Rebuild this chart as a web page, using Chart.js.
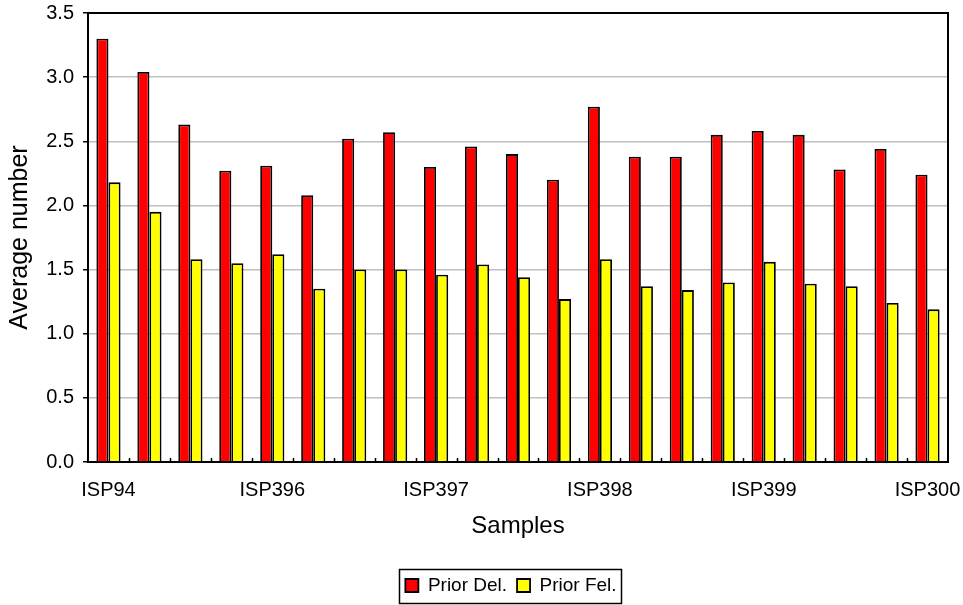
<!DOCTYPE html>
<html><head><meta charset="utf-8">
<script src="https://cdn.jsdelivr.net/npm/chart.js@4"></script>
<style>html,body{margin:0;padding:0;background:#fff}#wrap{width:963px;height:605px}</style>
</head><body><div id="wrap"><canvas id="c" width="963" height="605"></canvas></div>
<script>
const categories = ['ISP94','','','','ISP396','','','','ISP397','','','','ISP398','','','','ISP399','','','','ISP300'];
const priorDel = [3.30,3.04,2.63,2.27,2.31,2.08,2.52,2.57,2.30,2.46,2.40,2.20,2.77,2.38,2.38,2.55,2.58,2.55,2.28,2.44,2.24];
const priorFel = [2.18,1.95,1.58,1.55,1.62,1.35,1.50,1.50,1.46,1.54,1.44,1.27,1.58,1.37,1.34,1.40,1.56,1.39,1.37,1.24,1.19];
const seriesNames = ['Prior Del.','Prior Fel.'];
const yMin = 0, yMax = 3.5, yStep = 0.5;

Chart.defaults.font.family = '"Liberation Sans", Arial, sans-serif';
Chart.defaults.color = '#000';

const LEGEND_SHIFT = 37;

const decor = {
  id: 'decor',
  afterLayout(chart) {
    const lg = chart.legend;
    lg.left += LEGEND_SHIFT; lg.right += LEGEND_SHIFT;
  },
  afterDatasetsDraw(chart) {
    const {ctx, chartArea: a, scales: {x}} = chart;
    ctx.save();
    ctx.strokeStyle = '#000';
    ctx.lineWidth = 1.5;
    const half = (x.getPixelForValue(1) - x.getPixelForValue(0)) / 2;
    ctx.beginPath();
    for (let i = 0; i < categories.length - 1; i++) {
      const px = Math.round(x.getPixelForValue(i) + half) + 0.5;
      ctx.moveTo(px, a.bottom);
      ctx.lineTo(px, a.bottom - 4);
    }
    ctx.stroke();
    ctx.lineWidth = 2;
    ctx.strokeRect(a.left, a.top, a.right - a.left, a.bottom - a.top);
    ctx.restore();
  },
  afterDraw(chart) {
    const lg = chart.legend, hb = lg.legendHitBoxes;
    if (!hb || !hb.length) return;
    const first = hb[0], last = hb[hb.length - 1];
    const cy = first.top + first.height / 2;
    const l = first.left - 6, r = last.left + last.width + 5;
    const ctx = chart.ctx;
    ctx.save();
    ctx.strokeStyle = '#000'; ctx.lineWidth = 1.5;
    ctx.strokeRect(Math.round(l) + 0.5, Math.round(cy - 17) + 0.5, Math.round(r - l), 34);
    ctx.restore();
  }
};

new Chart(document.getElementById('c'), {
  type: 'bar',
  data: {
    labels: categories,
    datasets: [
      {label: seriesNames[0], data: priorDel, backgroundColor: '#ff0000', borderColor: '#000', borderWidth: 1.8, borderSkipped: 'bottom'},
      {label: seriesNames[1], data: priorFel, backgroundColor: '#ffff00', borderColor: '#000', borderWidth: 1.8, borderSkipped: 'bottom'}
    ]
  },
  options: {
    responsive: false,
    animation: false,
    devicePixelRatio: 1,
    datasets: {bar: {categoryPercentage: 0.59, barPercentage: 1.0}},
    layout: {padding: {top: 13, right: 15, left: 0, bottom: 0}},
    plugins: {
      tooltip: {enabled: false},
      legend: {
        position: 'bottom',
        labels: {boxWidth: 13, boxHeight: 13, padding: 10, font: {size: 19}, color: '#000'}
      }
    },
    scales: {
      x: {
        afterFit(s) { s.height = 104; s.paddingLeft = 0; s.paddingRight = 0; },
        grid: {display: false, drawTicks: false, tickLength: 0},
        border: {display: false},
        ticks: {autoSkip: false, maxRotation: 0, minRotation: 0, padding: 16, font: {size: 20}, color: '#000'},
        title: {display: true, text: 'Samples', font: {size: 24}, color: '#000', padding: {top: 10, bottom: 25}}
      },
      y: {
        min: yMin, max: yMax,
        afterFit(s) { s.width = 88; s.paddingTop = 0; s.paddingBottom = 0; },
        grid: {color: '#c0c0c0', lineWidth: 1.5, tickColor: '#000', tickLength: 5, drawTicks: true},
        border: {display: false},
        ticks: {stepSize: yStep, padding: 9, font: {size: 20}, color: '#000', callback: v => v.toFixed(1)},
        title: {display: true, text: 'Average number', font: {size: 25}, color: '#000', padding: {top: 5, bottom: 0}}
      }
    }
  },
  plugins: [decor]
});
</script>
</body></html>
